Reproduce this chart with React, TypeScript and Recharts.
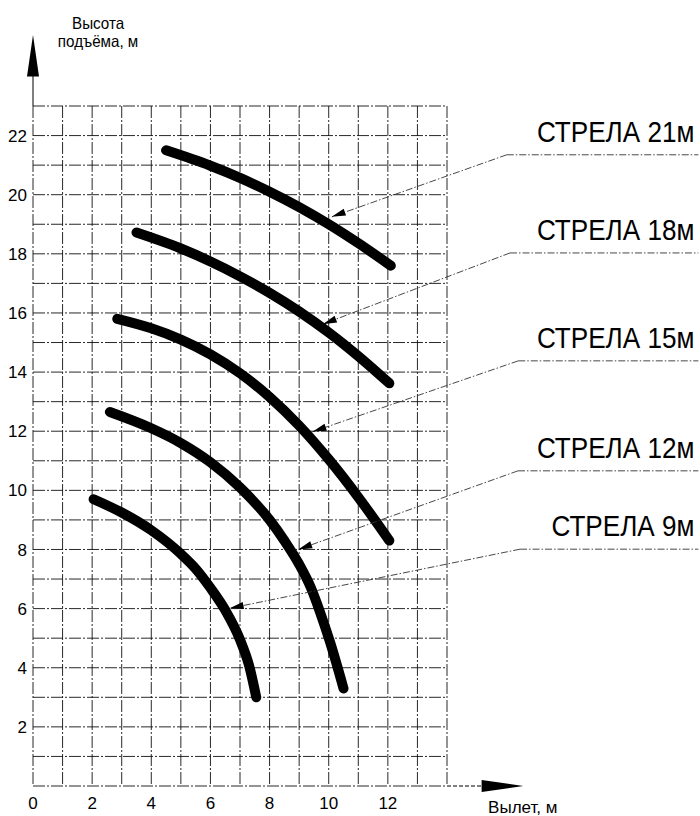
import {
  LineChart,
  Line,
  XAxis,
  YAxis,
  CartesianGrid,
  ReferenceLine,
  ReferenceDot,
} from 'recharts'

const FONT = "'Liberation Sans', Arial, sans-serif"

// grid steps, 1 m each way
const xTicks = [0, 1, 2, 3, 4, 5, 6, 7, 8, 9, 10, 11, 12, 13, 14]
const yTicks = [0, 1, 2, 3, 4, 5, 6, 7, 8, 9, 10, 11, 12, 13, 14, 15, 16, 17, 18, 19, 20, 21, 22, 23]
const xLabelled = [0, 2, 4, 6, 8, 10, 12]
const yLabelled = [2, 4, 6, 8, 10, 12, 14, 16, 18, 20, 22]

// вылет (x) / высота подъёма (y) для каждой стрелы
const boom21 = [
  { x: 4.5, y: 21.5 },
  { x: 6, y: 20.98 },
  { x: 7, y: 20.57 },
  { x: 8, y: 20.1 },
  { x: 9, y: 19.58 },
  { x: 10, y: 19.0 },
  { x: 11, y: 18.36 },
  { x: 12.1, y: 17.6 },
]
const boom18 = [
  { x: 3.5, y: 18.72 },
  { x: 5, y: 18.18 },
  { x: 6, y: 17.74 },
  { x: 7, y: 17.24 },
  { x: 8, y: 16.68 },
  { x: 9, y: 16.05 },
  { x: 10, y: 15.34 },
  { x: 11, y: 14.54 },
  { x: 12.05, y: 13.62 },
]
const boom15 = [
  { x: 2.85, y: 15.8 },
  { x: 4, y: 15.48 },
  { x: 5, y: 15.1 },
  { x: 6, y: 14.6 },
  { x: 7, y: 13.96 },
  { x: 8, y: 13.16 },
  { x: 9, y: 12.19 },
  { x: 10, y: 11.05 },
  { x: 11, y: 9.77 },
  { x: 12.05, y: 8.3 },
]
const boom12 = [
  { x: 2.6, y: 12.65 },
  { x: 4, y: 12.1 },
  { x: 5, y: 11.6 },
  { x: 6, y: 10.95 },
  { x: 7, y: 10.1 },
  { x: 8, y: 9.0 },
  { x: 8.5, y: 8.3 },
  { x: 9, y: 7.5 },
  { x: 9.4, y: 6.7 },
  { x: 9.7, y: 5.9 },
  { x: 10.05, y: 4.85 },
  { x: 10.5, y: 3.3 },
]
const boom9 = [
  { x: 2.05, y: 9.7 },
  { x: 3, y: 9.25 },
  { x: 4, y: 8.65 },
  { x: 5, y: 7.85 },
  { x: 5.5, y: 7.35 },
  { x: 6, y: 6.7 },
  { x: 6.5, y: 5.95 },
  { x: 7, y: 4.95 },
  { x: 7.3, y: 4.1 },
  { x: 7.55, y: 3.0 },
]

const booms = [boom21, boom18, boom15, boom12, boom9]
const boomNames = ['СТРЕЛА 21м', 'СТРЕЛА 18м', 'СТРЕЛА 15м', 'СТРЕЛА 12м', 'СТРЕЛА 9м']

// выноски: острие у кривой, излом, конец полки
const leaderTips = [
  { x: 10.1, y: 19.25 },
  { x: 9.8, y: 15.62 },
  { x: 9.45, y: 11.98 },
  { x: 8.97, y: 8.0 },
  { x: 6.65, y: 6.01 },
]
const leaderBends = [
  { x: 16.02, y: 21.35 },
  { x: 16.13, y: 18.03 },
  { x: 16.41, y: 14.38 },
  { x: 16.4, y: 10.66 },
  { x: 16.47, y: 8.01 },
]
const leaderEndX = 22.5

const leaderStyle = { stroke: '#333', strokeWidth: 0.9, strokeDasharray: '7 2 1.5 2' }

function triangle(p: any, half: number, len?: number) {
  // p.x1,p.y1 = начало, p.x2,p.y2 = острие
  const dx = p.x2 - p.x1
  const dy = p.y2 - p.y1
  const d = Math.sqrt(dx * dx + dy * dy) || 1
  const ux = dx / d
  const uy = dy / d
  const l = len ?? d
  const bx = p.x2 - ux * l
  const by = p.y2 - uy * l
  const pts = [
    [p.x2, p.y2],
    [bx - uy * half, by + ux * half],
    [bx + uy * half, by - ux * half],
  ]
  return pts.map((q) => q.join(',')).join(' ')
}

const arrowShape = (half: number) => (p: any) => (
  <polygon points={triangle(p, half)} fill="#000" stroke="none" />
)

// диагональ выноски: от излома к кривой, с маленьким острием
const leaderDiagShape = (p: any) => {
  const q = { x1: p.x1, y1: p.y1, x2: p.x2, y2: p.y2 }
  return (
    <g>
      <line x1={p.x1} y1={p.y1} x2={p.x2} y2={p.y2} {...leaderStyle} />
      <polygon points={triangle(q, 3.6, 14)} fill="#000" />
    </g>
  )
}

const shelfShape = (label: string) => (p: any) => (
  <g>
    <line x1={p.x1} y1={p.y1} x2={p.x2} y2={p.y2} {...leaderStyle} />
    <text
      transform={`translate(${p.x2 - 4},${p.y1 - 13}) scale(0.87,1)`}
      textAnchor="end"
      fontFamily={FONT}
      fontSize={30}
      fill="#000"
    >
      {label}
    </text>
  </g>
)

const yTitleShape = (p: any) => (
  <g fontFamily={FONT} fontSize={16.5} fill="#000">
    <text
      transform={`translate(${p.cx},${p.cy}) scale(0.92,1)`}
      textAnchor="middle"
    >
      Высота
    </text>
    <text
      transform={`translate(${p.cx},${p.cy + 18}) scale(0.92,1)`}
      textAnchor="middle"
    >
      подъёма, м
    </text>
  </g>
)

const xTitleShape = (p: any) => (
  <text x={p.cx} y={p.cy} textAnchor="start" fontFamily={FONT} fontSize={17} fill="#000">
    Вылет, м
  </text>
)

const tickStyle = { fontFamily: FONT, fontSize: 17, fill: '#000' }

export default function App() {
  return (
    <div style={{ position: 'absolute', left: 0, top: 0, background: '#fff' }}>
      <LineChart width={700} height={816} margin={{ top: 106, right: 253, bottom: 0, left: 0 }}>
        <CartesianGrid
          stroke="#111"
          strokeWidth={0.9}
          strokeDasharray="12 2 2 2"
          horizontal
          vertical
        />
        <XAxis
          type="number"
          dataKey="x"
          domain={[0, 14]}
          ticks={xTicks}
          interval={0}
          height={30}
          axisLine={false}
          tickLine={false}
          tickSize={6}
          tickMargin={5}
          tick={tickStyle}
          tickFormatter={(v: number) => (xLabelled.includes(v) ? String(v) : '')}
        />
        <YAxis
          type="number"
          dataKey="y"
          domain={[0, 23]}
          ticks={yTicks}
          interval={0}
          width={33}
          axisLine={false}
          tickLine={false}
          tickSize={4}
          tickMargin={2}
          tick={tickStyle}
          tickFormatter={(v: number) => (yLabelled.includes(v) ? String(v) : '')}
        />

        {/* продолжение осей со стрелками */}
        <ReferenceLine
          segment={[{ x: 0, y: 23 }, { x: 0, y: 24.1 }]}
          stroke="#000"
          strokeWidth={1}
          ifOverflow="visible"
        />
        <ReferenceLine
          segment={[{ x: 0, y: 24.0 }, { x: 0, y: 25.4 }]}
          ifOverflow="visible"
          shape={arrowShape(6)}
        />
        <ReferenceLine
          segment={[{ x: 14, y: 0 }, { x: 15.2, y: 0 }]}
          stroke="#000"
          strokeWidth={1}
          strokeDasharray="4 2"
          ifOverflow="visible"
        />
        <ReferenceLine
          segment={[{ x: 15.17, y: 0 }, { x: 16.58, y: 0 }]}
          ifOverflow="visible"
          shape={arrowShape(6)}
        />
        <ReferenceDot x={2.2} y={25.6} r={0} ifOverflow="visible" shape={yTitleShape} />
        <ReferenceDot x={15.39} y={-0.91} r={0} ifOverflow="visible" shape={xTitleShape} />

        {booms.map((d, i) => (
          <Line
            key={boomNames[i]}
            data={d}
            dataKey="y"
            type="monotone"
            stroke="#000"
            strokeWidth={10}
            strokeLinecap="round"
            dot={false}
            activeDot={false}
            isAnimationActive={false}
          />
        ))}

        {leaderTips.map((tip, i) => (
          <ReferenceLine
            key={'d' + i}
            segment={[leaderBends[i], tip]}
            ifOverflow="visible"
            shape={leaderDiagShape}
          />
        ))}
        {leaderBends.map((b, i) => (
          <ReferenceLine
            key={'s' + i}
            segment={[b, { x: leaderEndX, y: b.y }]}
            ifOverflow="visible"
            shape={shelfShape(boomNames[i])}
          />
        ))}
      </LineChart>
    </div>
  )
}
